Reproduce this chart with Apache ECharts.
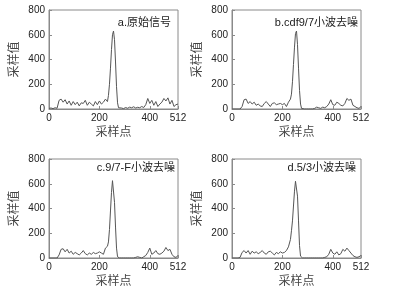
<!DOCTYPE html>
<html><head><meta charset="utf-8">
<script src="https://cdn.jsdelivr.net/npm/echarts@6/dist/echarts.min.js"></script>
<style>html,body{margin:0;padding:0;background:#fff}#c{width:399px;height:291px}</style>
</head><body><div id="c"></div>
<script>
// sample positions (shared by all four panels)
const xs = [0,8,16,24,32,40,48,56,64,72,80,88,96,104,112,120,128,136,144,152,160,168,176,184,192,200,208,216,224,232,
  236,240,244,248,252,256,260,264,268,272,276,280,
  288,296,304,312,320,328,336,344,352,360,368,376,384,392,400,408,416,424,432,440,448,456,464,472,480,488,496,504,512];
// a. original signal
const sigA = [5,8,3,10,6,70,80,55,75,40,65,30,60,35,55,25,50,45,70,30,55,40,25,60,35,65,40,55,80,60,
  110,200,330,480,600,630,560,380,180,50,10,5,
  8,3,12,6,15,10,18,8,14,10,20,12,35,85,45,70,30,60,20,40,55,85,65,90,40,70,20,35,40];
// b. cdf9/7 wavelet denoising
const sigB = [0,0,0,0,0,20,75,80,45,60,40,55,30,40,25,20,45,60,40,20,45,50,35,40,45,35,45,20,55,80,
  120,220,360,500,610,630,520,330,150,40,5,0,
  0,0,0,0,0,5,15,10,5,15,10,20,40,75,35,30,55,45,30,25,45,85,70,80,30,20,10,5,20];
// c. 9/7-F wavelet denoising
const sigC = [0,0,0,0,0,25,70,75,50,70,40,55,30,45,35,25,40,60,35,25,40,30,45,35,40,50,40,30,80,95,
  130,230,380,530,625,610,450,250,80,10,0,0,
  0,0,0,0,0,0,0,5,10,5,0,10,20,45,80,30,40,60,35,30,40,55,85,60,70,30,10,5,20];
// d. 5/3 wavelet denoising
const sigD = [0,0,0,0,5,45,60,40,60,30,55,40,50,35,45,60,40,30,50,55,40,25,45,35,50,40,45,60,90,150,
  220,300,420,540,620,630,500,300,100,15,0,0,
  0,0,0,0,0,0,0,0,0,0,5,10,30,70,40,30,50,25,35,70,55,80,60,40,20,10,5,10,20];
const titles = ['a.原始信号','b.cdf9/7小波去噪','c.9/7-F小波去噪','d.5/3小波去噪'];
const xTicks = [0,200,400,512];
const yTicks = [0,200,400,600,800];
const xName = '采样点', yName = '采样值';

const sigs = [sigA, sigB, sigC, sigD];
const FONT = 'Liberation Sans, Arial, Noto Sans CJK SC, sans-serif';
const boxes = [
  {left:49, top:10}, {left:232, top:10}, {left:49, top:159}, {left:232, top:159}
];
const titleRight = [228, 41, 224, 43];
const titleTop = [17, 17, 162, 162];
const axColor = '#8a8a8a';
const grid = [], xAxis = [], yAxis = [], series = [], title = [];
boxes.forEach((b, i) => {
  grid.push({left:b.left, top:b.top, width:129, height:99, show:true, borderColor:axColor, borderWidth:1, containLabel:false});
  xAxis.push({type:'value', gridIndex:i, min:0, max:512, interval:200,
    name:xName, nameLocation:'middle', nameGap:18,
    nameTextStyle:{fontSize:12, color:'#444', fontFamily:FONT},
    axisLine:{show:true, lineStyle:{color:axColor, width:1}},
    axisTick:{show:true, inside:true, length:3, lineStyle:{color:axColor}},
    axisLabel:{fontSize:10, color:'#222', margin:4, fontFamily:FONT, showMaxLabel:true, showMinLabel:true},
    splitLine:{show:false}});
  yAxis.push({type:'value', gridIndex:i, min:0, max:800, interval:200,
    name:yName, nameLocation:'middle', nameGap:28, nameRotate:90,
    nameTextStyle:{fontSize:12, color:'#444', fontFamily:FONT},
    axisLine:{show:true, lineStyle:{color:axColor, width:1}},
    axisTick:{show:true, inside:true, length:3, lineStyle:{color:axColor}},
    axisLabel:{fontSize:10, color:'#222', margin:4, fontFamily:FONT},
    splitLine:{show:false}});
  series.push({type:'line', xAxisIndex:i, yAxisIndex:i, showSymbol:false, symbol:'none',
    lineStyle:{color:'#555', width:1}, animation:false,
    data: xs.map((x, k) => [x, sigs[i][k]])});
  title.push({text:titles[i], right:titleRight[i], top:titleTop[i], padding:0,
    textStyle:{fontSize:11, fontWeight:'normal', color:'#222', fontFamily:FONT}});
});
const chart = echarts.init(document.getElementById('c'), null, {renderer:'canvas'});
chart.setOption({backgroundColor:'#fff', animation:false, title, grid, xAxis, yAxis, series});
</script></body></html>
